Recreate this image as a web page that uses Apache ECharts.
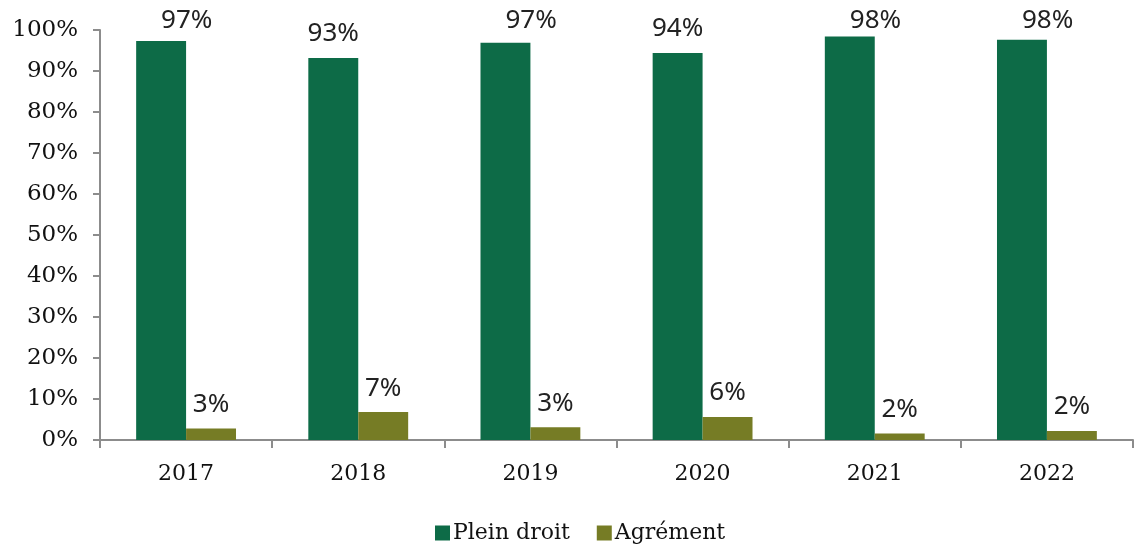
<!DOCTYPE html>
<html>
<head>
<meta charset="utf-8">
<script src="https://cdn.jsdelivr.net/npm/echarts@6/dist/echarts.min.js"></script>
<style>html,body{margin:0;padding:0;background:#fff;}#c{width:1134px;height:544px;}</style>
</head>
<body>
<div id="c"></div>
<script>
var categories = ['2017', '2018', '2019', '2020', '2021', '2022'];
var pleinDroit = [97.3, 93.2, 96.9, 94.4, 98.4, 97.6];
var agrement = [2.8, 6.8, 3.1, 5.6, 1.6, 2.2];
var yTicks = [0, 10, 20, 30, 40, 50, 60, 70, 80, 90, 100];

var serif = 'DejaVu Serif';
var chart = echarts.init(document.getElementById('c'), null, {renderer: 'canvas'});
function clampLayout(p) {
  if (p.labelRect.y < 8) { return { y: 8 + p.labelRect.height / 2, verticalAlign: 'middle' }; }
  return {};
}
var labelStyle = {
  show: true, position: 'top', distance: 11,
  fontFamily: 'Noto Sans', fontSize: 26, color: '#222',
  formatter: function (p) { return Math.round(p.value) + '%'; }
};
chart.setOption({
  animation: false,
  grid: { left: 100, right: 1, top: 30, bottom: 104, containLabel: false },
  legend: {
    left: 430, top: 517, itemWidth: 15, itemHeight: 15, itemGap: 27,
    icon: 'rect',
    textStyle: { fontFamily: serif, fontSize: 22, color: '#111', padding: [0, 0, 0, -2] },
    data: ['Plein droit', 'Agrément']
  },
  xAxis: {
    type: 'category', data: categories,
    axisLine: { lineStyle: { color: '#8c8c8c', width: 2 } },
    axisTick: { show: true, length: 8, lineStyle: { color: '#8c8c8c', width: 2 } },
    axisLabel: { fontFamily: serif, fontSize: 22, color: '#111', margin: 23 }
  },
  yAxis: {
    type: 'value', min: yTicks[0], max: yTicks[yTicks.length - 1], interval: 10,
    axisLine: { show: true, lineStyle: { color: '#8c8c8c', width: 2 } },
    axisTick: { show: true, length: 7, lineStyle: { color: '#8c8c8c', width: 2 } },
    splitLine: { show: false },
    axisLabel: { fontFamily: serif, fontSize: 23, color: '#111', margin: 22, formatter: '{value}%' }
  },
  series: [
    { name: 'Plein droit', type: 'bar', data: pleinDroit, barGap: '0%', barCategoryGap: '42%',
      itemStyle: { color: '#0d6b47' }, label: labelStyle, labelLayout: clampLayout },
    { name: 'Agrément', type: 'bar', data: agrement, barGap: '0%', barCategoryGap: '42%',
      itemStyle: { color: '#767c25' }, label: labelStyle, labelLayout: clampLayout }
  ]
});
</script>
</body>
</html>
